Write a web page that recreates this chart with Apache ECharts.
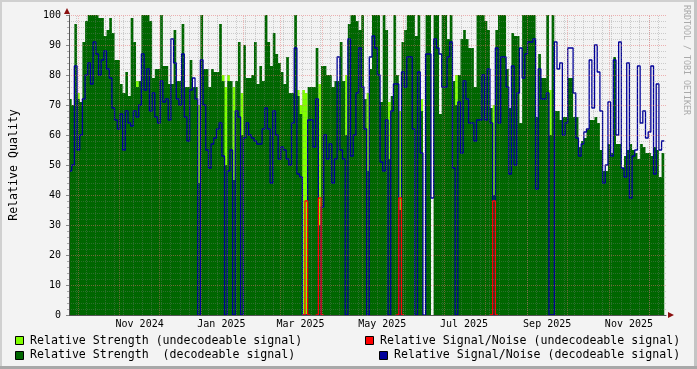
<!DOCTYPE html>
<html><head><meta charset="utf-8">
<script src="https://cdn.jsdelivr.net/npm/echarts@6/dist/echarts.min.js"></script>
<style>html,body{margin:0;padding:0;background:#f3f3f3}#c{width:697px;height:369px}</style>
</head><body><div id="c"></div>
<script>
// ---- data (2-day steps starting at startDate) ----
const startDate = '2024-09-24T08:00:00Z';
const stepDays = 2;
const spanDays = 445.3;

const strengthDecodeable = [
72,70,97,72,71,91,98,100,100,100,
100,99,99,93,95,99,94,85,85,77,
74,81,73,99,91,76,78,100,100,100,
98,79,82,82,100,83,83,77,77,95,
78,78,97,76,76,85,76,76,44,100,
82,82,76,82,81,81,97,78,50,78,
78,45,78,91,60,90,79,79,80,91,
77,83,78,100,91,83,94,87,84,81,
77,86,74,74,100,73,67,0,0,76,
76,76,89,30,83,83,80,80,76,78,
78,91,78,60,97,100,100,98,95,100,
72,48,82,100,100,100,71,100,95,52,
73,100,80,35,91,95,100,100,100,93,
100,68,0,100,100,0,100,100,67,100,
100,92,100,78,70,80,92,95,92,89,
89,76,100,100,100,98,95,69,40,95,
100,100,100,82,69,94,93,93,64,100,
100,100,100,100,66,87,79,79,100,60,
100,68,68,65,66,66,79,79,66,66,
56,58,59,62,65,65,66,64,55,48,
48,57,54,86,57,57,49,53,55,57,
55,54,52,57,56,54,54,53,56,55,
46,54];

const snrDecodeable = [
48,50,83,55,60,72,80,84,77,91,
87,80,85,88,82,79,69,65,62,67,
55,68,64,63,68,66,70,87,75,82,
68,74,66,64,78,71,72,65,92,84,
72,70,87,66,58,75,79,72,0,85,
70,55,49,57,59,62,64,53,0,48,
55,0,68,66,0,59,64,60,59,58,
57,57,62,69,62,44,68,60,52,56,
55,52,50,64,89,47,46,0,0,65,
65,56,72,0,36,60,52,57,44,52,
86,55,52,0,92,53,60,74,89,76,
62,0,86,93,89,80,51,48,65,0,
68,77,77,0,81,76,86,86,62,0,
81,54,0,87,87,39,92,89,87,76,
76,86,91,49,0,71,54,78,72,64,
64,58,65,65,80,65,82,64,0,89,
64,86,86,76,47,83,50,74,89,79,
87,91,91,92,42,82,72,72,74,0,
0,91,82,84,60,64,89,89,74,59,
53,57,61,62,85,69,90,81,68,44,
50,71,53,85,60,91,49,46,84,39,
53,55,83,64,68,59,61,83,47,77,
55,58];

// [step index, value] where the signal was undecodeable
const strengthUndecodeable = [[3,74],[25,78],[48,70],[57,80],[58,76],[59,80],[61,76],[64,74],
  [85,75],[86,70],[87,75],[88,74],[93,77],[103,80],[111,74],[119,71],[123,68],[131,72],
  [144,80],[158,70],[179,75]];
const snrUndecodeable = [[88,38],[93,39],[123,39],[158,38]];

const yTickStep = 10;
const monthStarts = ['2024-10-01','2024-11-01','2024-12-01','2025-01-01','2025-02-01','2025-03-01',
  '2025-04-01','2025-05-01','2025-06-01','2025-07-01','2025-08-01','2025-09-01','2025-10-01',
  '2025-11-01','2025-12-01'];
const monthLabels = ['Nov 2024','Jan 2025','Mar 2025','May 2025','Jul 2025','Sep 2025','Nov 2025'];
const monthLabelDates = ['2024-11-16','2025-01-16','2025-03-16','2025-05-16','2025-07-16','2025-09-16','2025-11-16'];
const firstMonday = '2024-09-30';

// ---- build ----
const DAY = 86400000;
const t0 = Date.parse(startDate);
const tEnd = t0 + spanDays * DAY;
const n = strengthDecodeable.length;
const times = [];
for (let i = 0; i <= n; i++) times.push(t0 + i * stepDays * DAY);

function toSeries(arr) {
  const d = arr.map((v, i) => [times[i], v]);
  d.push([times[n], arr[arr.length - 1]]);
  return d;
}
const weak = strengthDecodeable.map(() => 0);
strengthUndecodeable.forEach(([i, v]) => { weak[i] = v; });
const red = strengthDecodeable.map(() => null);
snrUndecodeable.forEach(([i, v]) => {
  if (red[i - 1] == null) red[i - 1] = 0;
  red[i] = v;
  if (red[i + 1] == null) red[i + 1] = 0;
});

const gridLines = [];
for (let t = Date.parse(firstMonday + 'T00:00:00Z'); t < tEnd; t += 7 * DAY) {
  gridLines.push({ xAxis: t, lineStyle: { color: 'rgba(130,130,130,0.35)', type: [1, 1], width: 1 } });
}
monthStarts.forEach(m => {
  gridLines.push({ xAxis: Date.parse(m + 'T00:00:00Z'), lineStyle: { color: 'rgba(230,110,110,0.45)', type: [1, 1], width: 1 } });
});
const labelLines = monthLabelDates.map((m, k) => ({
  xAxis: Date.parse(m + 'T00:00:00Z'),
  label: { show: true, position: 'start', formatter: monthLabels[k], distance: 4,
    fontFamily: 'DejaVu Sans Mono', fontSize: 10, color: '#000' }
}));

const FONT = 'DejaVu Sans Mono';
const chart = echarts.init(document.getElementById('c'), null, { renderer: 'canvas' });
function areaSeries(data, color, z) {
  return { type: 'line', data: data, step: 'end', symbol: 'none', z: z,
    lineStyle: { width: 0 }, areaStyle: { color: color, opacity: 1 }, silent: true };
}
chart.setOption({
  animation: false,
  backgroundColor: '#f3f3f3',
  grid: { left: 67, top: 15, width: 599, height: 300 },
  xAxis: {
    type: 'time', min: t0, max: tEnd, z: 10,
    axisLine: { show: true, lineStyle: { color: '#555', width: 1 } },
    axisTick: { show: false }, axisLabel: { show: false }, splitLine: { show: false }
  },
  yAxis: {
    type: 'value', min: 0, max: 100, interval: yTickStep, z: 10,
    name: 'Relative Quality', nameLocation: 'middle', nameRotate: 90, nameGap: 49,
    nameTextStyle: { fontFamily: FONT, fontSize: 11.6, color: '#000' },
    axisLine: { show: true, lineStyle: { color: '#555', width: 1 } },
    axisTick: { show: true, length: 3, lineStyle: { color: '#888' } },
    minorTick: { show: true, splitNumber: 5, length: 2, lineStyle: { color: '#aaa' } },
    axisLabel: { fontFamily: FONT, fontSize: 10, color: '#000', margin: 8 },
    splitLine: { show: true, lineStyle: { color: 'rgba(230,110,110,0.5)', type: [1, 1] } },
    minorSplitLine: { show: true, lineStyle: { color: 'rgba(130,130,130,0.35)', type: [1, 1] } }
  },
  series: [
    areaSeries(toSeries(weak), '#80ff00', 1),
    areaSeries(toSeries(strengthDecodeable), '#006600', 2),
    { type: 'line', data: toSeries(snrDecodeable), step: 'end', symbol: 'none', z: 3, silent: true,
      lineStyle: { color: '#000099', width: 1.3 } },
    { type: 'line', data: toSeries(red), step: 'end', symbol: 'none', z: 4, silent: true,
      lineStyle: { color: '#ff0000', width: 1.3 } },
    { type: 'line', data: [], z: 6, silent: true,
      markLine: { silent: true, symbol: ['none', 'none'], animation: false, label: { show: false }, data: gridLines } },
    { type: 'line', data: [], z: 6, silent: true,
      markLine: { silent: true, symbol: ['none', 'none'], animation: false,
        lineStyle: { color: 'rgba(0,0,0,0)', width: 0 }, data: labelLines } }
  ],
  graphic: [
    { type: 'rect', shape: { x: 0, y: 0, width: 697, height: 2 }, style: { fill: '#d0d0d0' } },
    { type: 'rect', shape: { x: 0, y: 0, width: 2, height: 369 }, style: { fill: '#d0d0d0' } },
    { type: 'rect', shape: { x: 694, y: 0, width: 3, height: 369 }, style: { fill: '#c4c4c4' } },
    { type: 'rect', shape: { x: 0, y: 366, width: 697, height: 3 }, style: { fill: '#a8a8a8' } },
    { type: 'polygon', shape: { points: [[64, 14], [70, 14], [67, 8]] }, style: { fill: '#8b1010' } },
    { type: 'polygon', shape: { points: [[668, 312], [668, 318], [674, 315]] }, style: { fill: '#8b1010' } },
    { type: 'text', x: 686, y: 5, rotation: -Math.PI / 2,
      style: { text: 'RRDTOOL / TOBI OETIKER', fill: '#aaaaaa', font: '8.3px ' + FONT, textAlign: 'left', textVerticalAlign: 'middle' } },
    { type: 'rect', shape: { x: 15.5, y: 336.5, width: 8, height: 8 }, style: { fill: '#80ff00', stroke: '#000', lineWidth: 1 } },
    { type: 'text', x: 30, y: 341, style: { text: 'Relative Strength (undecodeable signal)', fill: '#000', font: '11.6px ' + FONT, textVerticalAlign: 'middle' } },
    { type: 'rect', shape: { x: 15.5, y: 351.5, width: 8, height: 8 }, style: { fill: '#006600', stroke: '#000', lineWidth: 1 } },
    { type: 'text', x: 30, y: 355, style: { text: 'Relative Strength  (decodeable signal)', fill: '#000', font: '11.6px ' + FONT, textVerticalAlign: 'middle' } },
    { type: 'rect', shape: { x: 365.5, y: 336.5, width: 8, height: 8 }, style: { fill: '#ff0000', stroke: '#000', lineWidth: 1 } },
    { type: 'text', x: 380, y: 341, style: { text: 'Relative Signal/Noise (undecodeable signal)', fill: '#000', font: '11.6px ' + FONT, textVerticalAlign: 'middle' } },
    { type: 'rect', shape: { x: 379.5, y: 351.5, width: 8, height: 8 }, style: { fill: '#000099', stroke: '#000', lineWidth: 1 } },
    { type: 'text', x: 394, y: 355, style: { text: 'Relative Signal/Noise (decodeable signal)', fill: '#000', font: '11.6px ' + FONT, textVerticalAlign: 'middle' } }
  ]
});
</script></body></html>
